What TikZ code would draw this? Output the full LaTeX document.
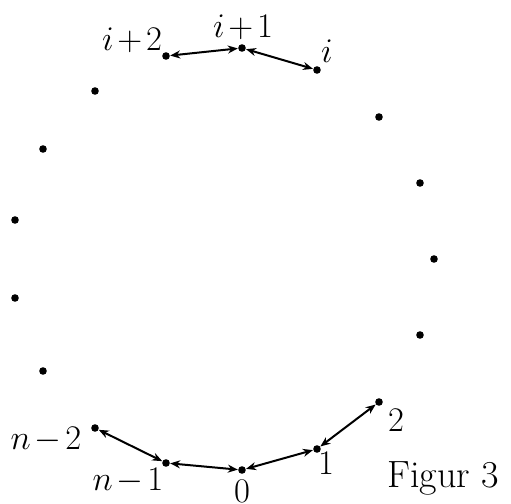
\documentclass[tikz,border=0pt]{standalone}
\usetikzlibrary{arrows.meta}
\newcommand{\opm}[1]{\mkern2mu{#1}\mkern2mu}
\begin{document}
\begin{tikzpicture}[x=0.5pt,y=-0.5pt,
  dot/.style={circle,fill=black,inner sep=0pt,minimum size=3.8pt},
  lbl/.style={font=\fontsize{19}{22}\selectfont,inner sep=0pt},
  link/.style={line width=1pt,{Stealth[length=5pt,width=4pt]}-{Stealth[length=5pt,width=4pt]}}]
\useasboundingbox (0,0) rectangle (511,504);
\node[dot] (p0) at (242,470) {};
\node[dot] (p1) at (317,449) {};
\node[dot] (p2) at (379,402) {};
\node[dot] (r1) at (420,335) {};
\node[dot] (r2) at (434,259) {};
\node[dot] (r3) at (420,183) {};
\node[dot] (r4) at (379,117) {};
\node[dot] (pi) at (317,70) {};
\node[dot] (pi1) at (242,48) {};
\node[dot] (pi2) at (166,56) {};
\node[dot] (l1) at (95,91) {};
\node[dot] (l2) at (43,149) {};
\node[dot] (l3) at (15,220) {};
\node[dot] (l4) at (15,298) {};
\node[dot] (l5) at (43,371) {};
\node[dot] (pn2) at (95,428) {};
\node[dot] (pn1) at (166,463) {};
\draw[link] (pn1) -- (p0);
\draw[link] (p0) -- (p1);
\draw[link] (p1) -- (p2);
\draw[link] (pn2) -- (pn1);
\draw[link] (pi2) -- (pi1);
\draw[link] (pi1) -- (pi);
\node[lbl] (t0) at (242,491) {$0$};
\node[lbl] (t1) at (326,463) {$1$};
\node[lbl] (t2) at (396,420) {$2$};
\node[lbl] (tn1) at (128,481) {$n\opm{-}1$};
\node[lbl] (tn2) at (46,440) {$n\opm{-}2$};
\node[lbl] (ti) at (327,51) {$i$};
\node[lbl] (ti1) at (243,27) {$i\opm{+}1$};
\node[lbl] (ti2) at (132,40) {$i\opm{+}2$};
\node[lbl] (fig) at (443,478) {Figur 3};
\end{tikzpicture}
\end{document}
